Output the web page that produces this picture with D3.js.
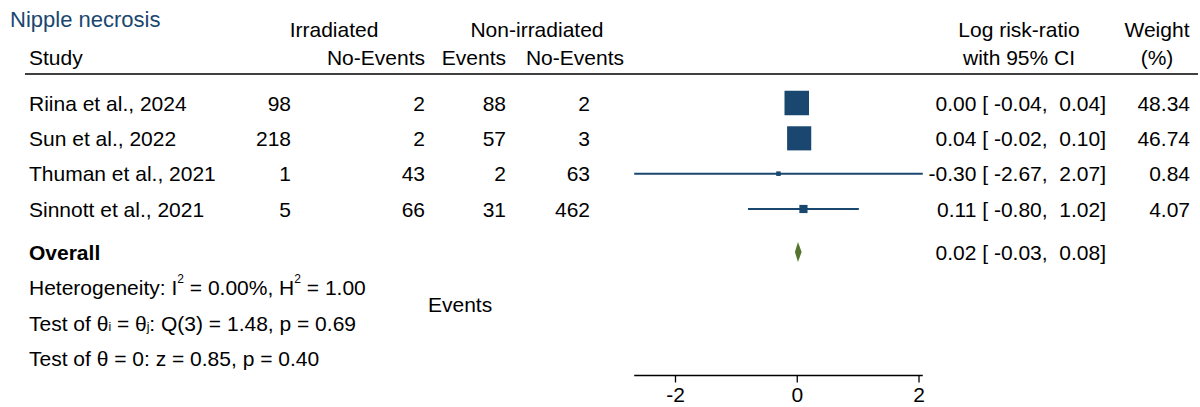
<!DOCTYPE html>
<html>
<head>
<meta charset="utf-8">
<script src="https://cdn.jsdelivr.net/npm/d3@7"></script>
<style>
  html, body { margin: 0; padding: 0; background: #fff; }
  svg { display: block; }
  text { font-family: "Liberation Sans", Arial, Helvetica, sans-serif; fill: #000; white-space: pre; }
</style>
</head>
<body>
<svg id="chart" width="1200" height="407"></svg>
<script>
// Study-level data for the nipple necrosis meta-analysis
const studies = ["Riina et al., 2024", "Sun et al., 2022", "Thuman et al., 2021", "Sinnott et al., 2021"];
const irrEvents = [98, 218, 1, 5];
const irrNoEvents = [2, 2, 43, 66];
const nonEvents = [88, 57, 2, 31];
const nonNoEvents = [2, 3, 63, 462];
const logRR = [0.00, 0.04, -0.30, 0.11];
const ciLow = [-0.04, -0.02, -2.67, -0.80];
const ciHigh = [0.04, 0.10, 2.07, 1.02];
const weights = [48.34, 46.74, 0.84, 4.07];

// Pooled estimate
const overall = { est: 0.02, lo: -0.03, hi: 0.08 };

const axisTicks = [-2, 0, 2];

const navy = "#1a476f";
const green = "#55752f";
const fs = 21;

const svg = d3.select("#chart");

// Scales
const x = d3.scaleLinear().domain([-2, 2]).range([675, 918.5]);
const y = d3.scalePoint().domain(studies).range([103, 209]);
const overallY = 252;
const side = d3.scaleSqrt().domain([0, d3.max(weights)]).range([0, 23]);

function label(txt, px, py, anchor = "start", opts = {}) {
  return svg.append("text")
    .attr("x", px).attr("y", py)
    .attr("text-anchor", anchor)
    .attr("dominant-baseline", "central")
    .style("font-size", (opts.size || fs) + "px")
    .style("font-weight", opts.bold ? "bold" : null)
    .style("fill", opts.color || "#000")
    .text(txt);
}

// Title and column headers
label("Nipple necrosis", 10, 19, "start", { color: navy, size: 22 });
label("Irradiated", 334, 29, "middle");
label("Non-irradiated", 537, 29, "middle");
label("Study", 29, 57, "start");
label("No-Events", 425, 57, "end");
label("Events", 506, 57, "end");
label("No-Events", 624, 57, "end");
label("Log risk-ratio", 1019, 29, "middle");
label("with 95% CI", 1019, 57, "middle");
label("Weight", 1157, 29, "middle");
label("(%)", 1157, 57, "middle");

// Rule under the header
svg.append("line")
  .attr("x1", 25).attr("x2", 1198)
  .attr("y1", 74).attr("y2", 74)
  .attr("stroke", "#000").attr("stroke-width", 1.5);

const f2 = v => v.toFixed(2);
const ciText = (e, lo, hi) => f2(e) + " [ " + f2(lo) + ",  " + f2(hi) + "]";

// Study rows: text columns
studies.forEach((s, i) => {
  const yy = y(s);
  label(s, 29, yy, "start");
  label(String(irrEvents[i]), 291, yy, "end");
  label(String(irrNoEvents[i]), 425, yy, "end");
  label(String(nonEvents[i]), 506, yy, "end");
  label(String(nonNoEvents[i]), 590, yy, "end");
  label(ciText(logRR[i], ciLow[i], ciHigh[i]), 1106, yy, "end");
  label(f2(weights[i]), 1190, yy, "end");
});

// Confidence interval whiskers
svg.append("g").selectAll("line")
  .data(studies)
  .join("line")
  .attr("x1", (d, i) => x(ciLow[i]))
  .attr("x2", (d, i) => x(ciHigh[i]))
  .attr("y1", d => y(d)).attr("y2", d => y(d))
  .attr("stroke", navy).attr("stroke-width", 2);

// Weight-proportional squares
svg.append("g").selectAll("rect")
  .data(studies)
  .join("rect")
  .attr("x", (d, i) => x(logRR[i]) - side(weights[i]) / 2)
  .attr("y", (d, i) => y(d) - side(weights[i]) / 2)
  .attr("width", (d, i) => side(weights[i]))
  .attr("height", (d, i) => side(weights[i]))
  .attr("fill", navy)
  .attr("stroke", navy).attr("stroke-width", 1.5);

// Overall row
label("Overall", 29, overallY, "start", { bold: true });
label(ciText(overall.est, overall.lo, overall.hi), 1106, overallY, "end");

const dh = 10;
svg.append("path")
  .attr("d", [
    [x(overall.lo), overallY],
    [x(overall.est), overallY - dh],
    [x(overall.hi), overallY],
    [x(overall.est), overallY + dh]
  ].map((p, k) => (k ? "L" : "M") + p[0] + "," + p[1]).join("") + "Z")
  .attr("fill", green);

// Heterogeneity and test statistics
const het = svg.append("text").attr("x", 29).attr("y", 287)
  .attr("dominant-baseline", "central").style("font-size", fs + "px");
het.append("tspan").text("Heterogeneity: I");
het.append("tspan").attr("dy", -8).style("font-size", "12px").text("2");
het.append("tspan").attr("dy", 8).text(" = 0.00%, H");
het.append("tspan").attr("dy", -8).style("font-size", "12px").text("2");
het.append("tspan").attr("dy", 8).text(" = 1.00");

const q = svg.append("text").attr("x", 29).attr("y", 323)
  .attr("dominant-baseline", "central").style("font-size", fs + "px");
q.append("tspan").text("Test of θ");
q.append("tspan").attr("dy", 4).style("font-size", "12px").text("i");
q.append("tspan").attr("dy", -4).text(" = θ");
q.append("tspan").attr("dy", 4).style("font-size", "12px").text("j");
q.append("tspan").attr("dy", -4).text(": Q(3) = 1.48, p = 0.69");

label("Test of θ = 0: z = 0.85, p = 0.40", 29, 358, "start");

label("Events", 428, 304, "start");

// Bottom axis
const axis = svg.append("g")
  .attr("transform", "translate(0,375.5)")
  .call(d3.axisBottom(x).tickValues(axisTicks).tickFormat(d3.format("d")).tickSize(7).tickSizeOuter(0));
axis.select(".domain").remove();
axis.append("line")
  .attr("x1", x(ciLow[2])).attr("x2", x(ciHigh[2]))
  .attr("stroke", "#000").attr("stroke-width", 1.3);
axis.selectAll(".tick line").attr("stroke", "#000").attr("stroke-width", 1.3);
axis.selectAll(".tick text")
  .attr("y", 12)
  .style("font-family", "'Liberation Sans', Arial, sans-serif")
  .style("font-size", fs + "px")
  .attr("fill", "#000");
axis.selectAll(".tick text").text(d => d < 0 ? "-" + Math.abs(d) : d);
</script>
</body>
</html>
